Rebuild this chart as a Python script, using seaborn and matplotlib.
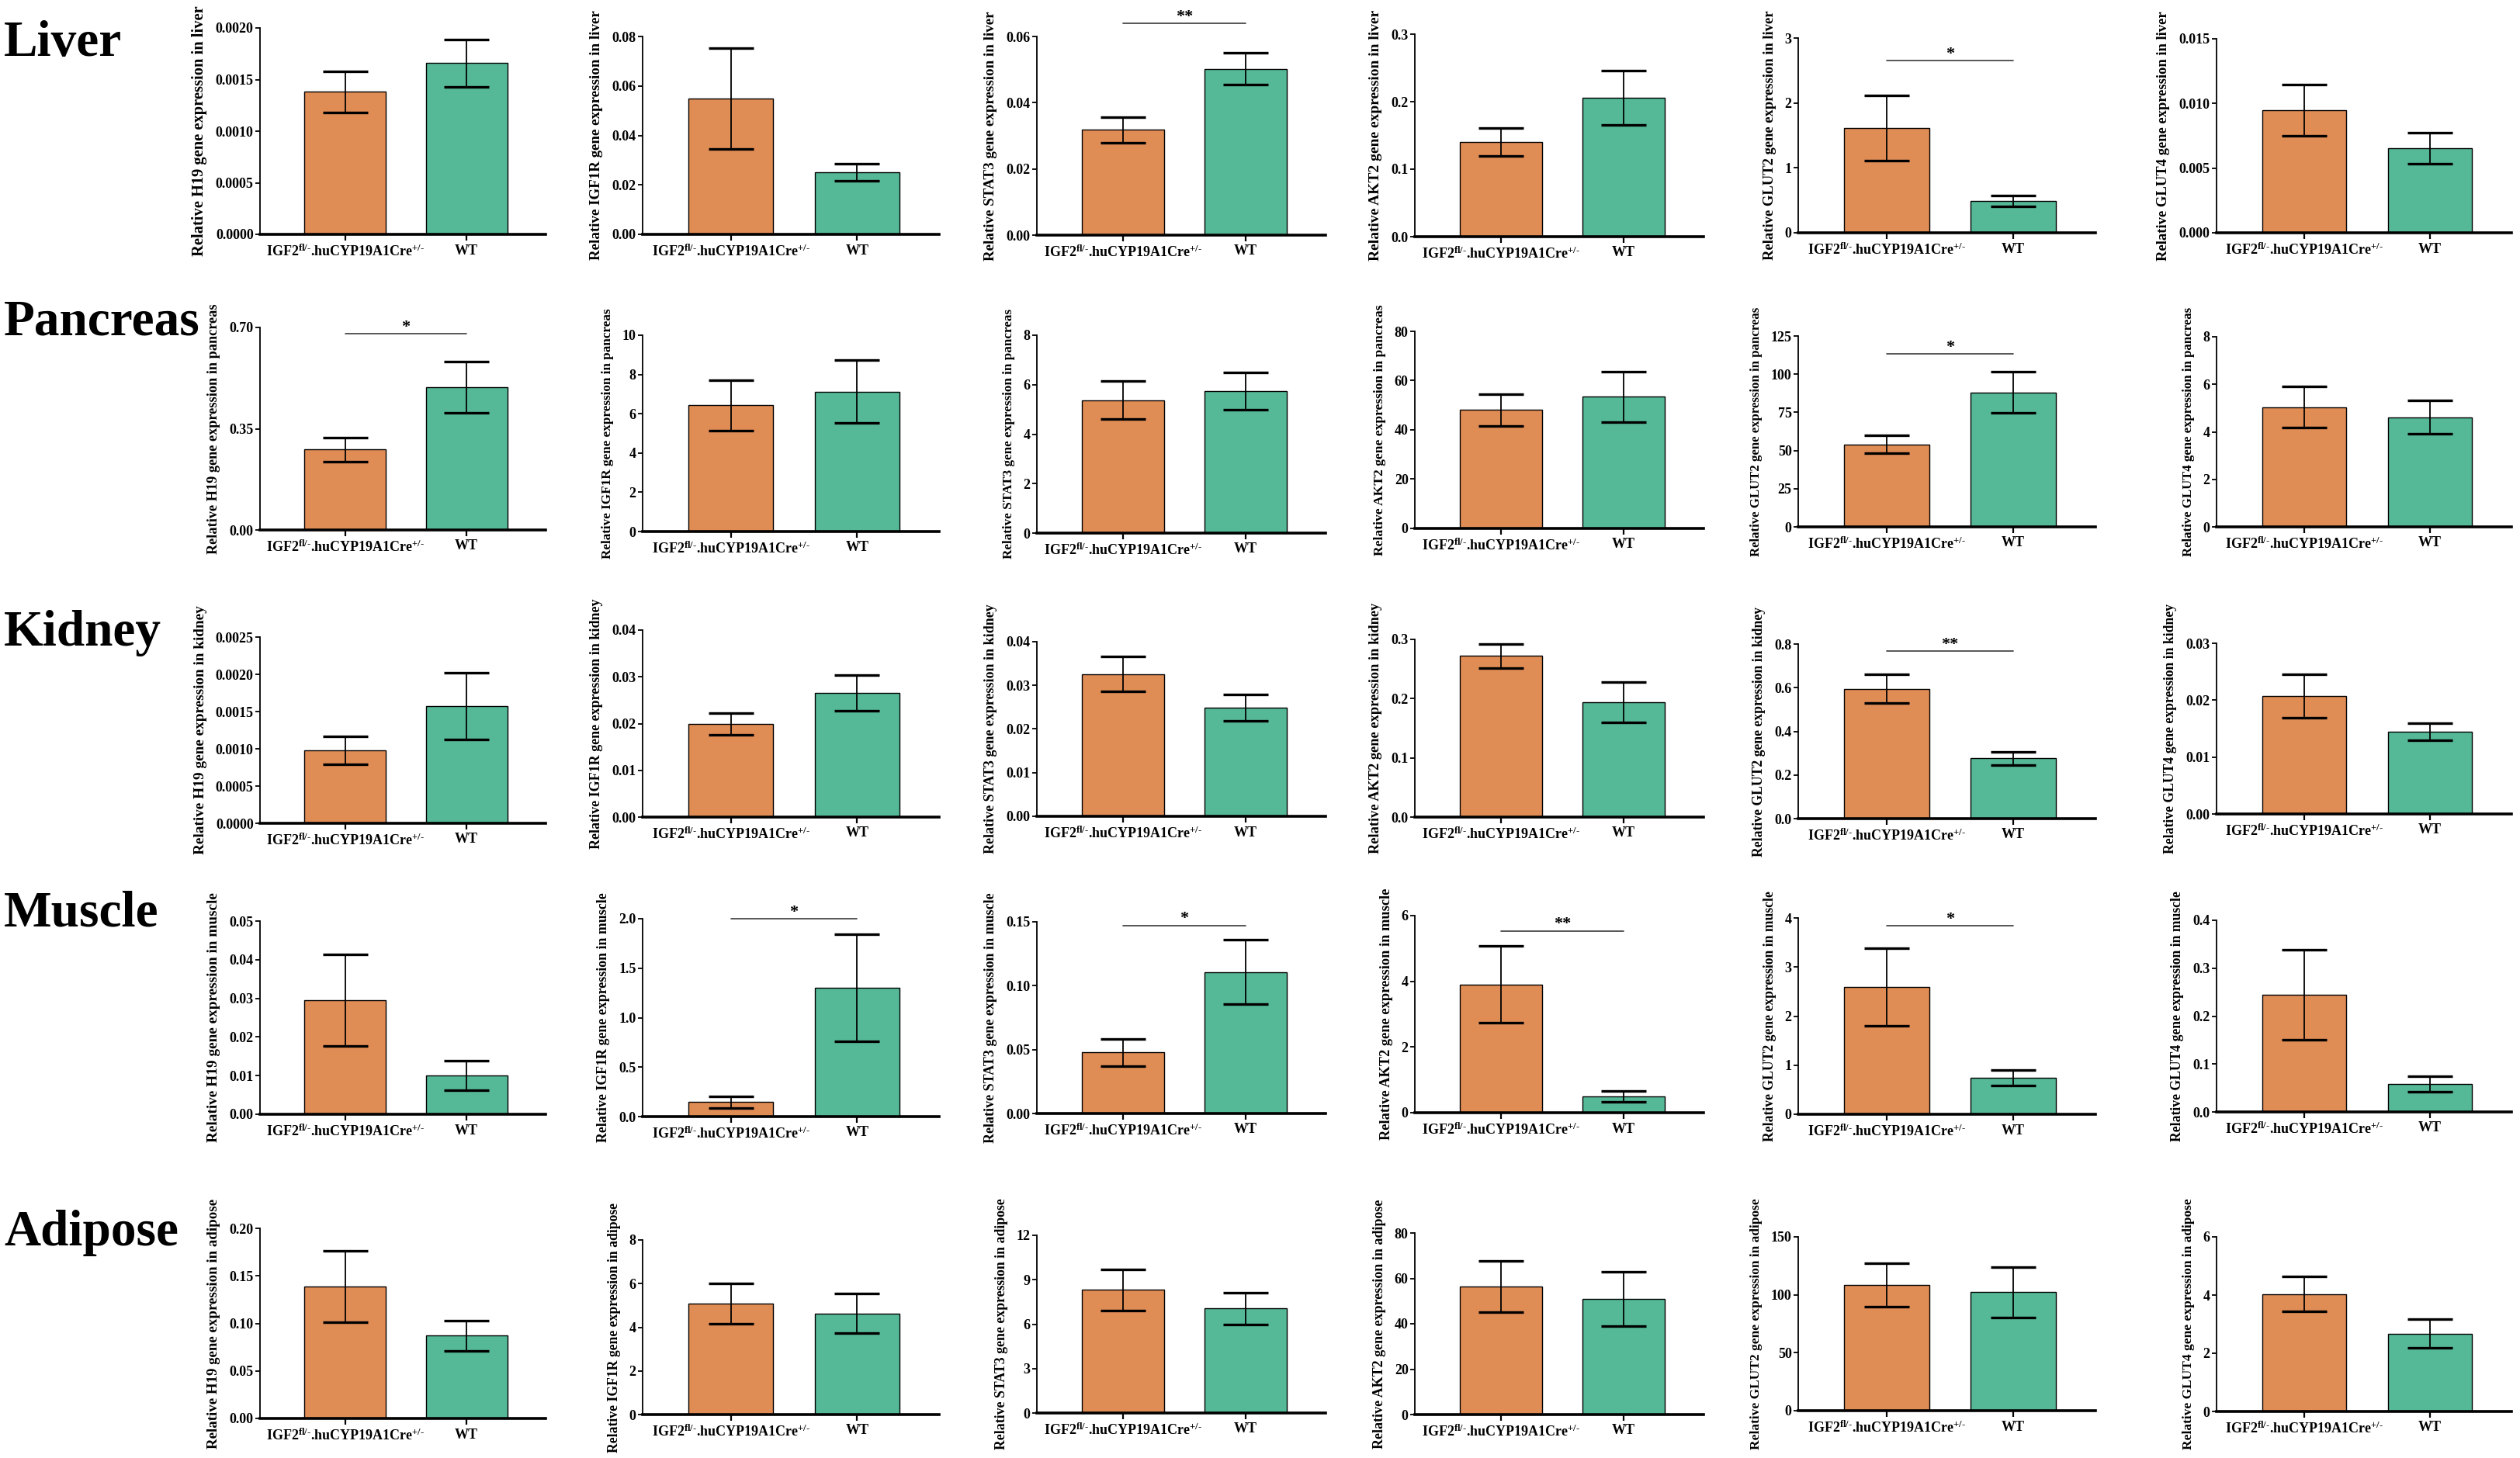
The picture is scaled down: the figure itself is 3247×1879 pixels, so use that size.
import numpy as np
import pandas as pd
import matplotlib
matplotlib.use('Agg')
import matplotlib.pyplot as plt
import seaborn as sns

# ---- data (mean and SEM per group) ----
tissues = ['Liver', 'Pancreas', 'Kidney', 'Muscle', 'Adipose']
genes = ['H19', 'IGF1R', 'STAT3', 'AKT2', 'GLUT2', 'GLUT4']
groups = ['KO', 'WT']
group_labels = [r'IGF2$^{\mathrm{fl/\text{-}}}$.huCYP19A1Cre$^{\mathrm{+/\text{-}}}$', 'WT']

ko_mean = [
    [0.00138, 0.0549, 0.0318, 0.1404, 1.615, 0.00947],
    [0.278, 6.43, 5.38, 48.1, 54.1, 5.04],
    [0.00098, 0.0199, 0.0326, 0.272, 0.595, 0.0207],
    [0.0295, 0.146, 0.0478, 3.90, 2.59, 0.244],
    [0.1388, 5.09, 8.31, 56.5, 108.5, 4.04],
]
ko_sem = [
    [0.0002, 0.0204, 0.0039, 0.0207, 0.50, 0.00197],
    [0.041, 1.28, 0.78, 6.4, 6.0, 0.87],
    [0.00019, 0.0023, 0.0040, 0.020, 0.065, 0.0038],
    [0.0118, 0.058, 0.0107, 1.17, 0.79, 0.094],
    [0.0375, 0.93, 1.40, 11.3, 18.7, 0.59],
]
wt_mean = [
    [0.00166, 0.0251, 0.0502, 0.206, 0.487, 0.00654],
    [0.493, 7.12, 5.75, 53.4, 88.0, 4.61],
    [0.00157, 0.0265, 0.0249, 0.194, 0.276, 0.0144],
    [0.0101, 1.30, 0.1107, 0.50, 0.747, 0.0584],
    [0.0871, 4.63, 7.06, 51.05, 102.3, 2.68],
]
wt_sem = [
    [0.00023, 0.0035, 0.0048, 0.040, 0.084, 0.00122],
    [0.088, 1.6, 0.75, 10.2, 13.4, 0.70],
    [0.00045, 0.0038, 0.0030, 0.034, 0.031, 0.0015],
    [0.0038, 0.54, 0.0253, 0.17, 0.158, 0.0157],
    [0.0158, 0.91, 1.06, 12.0, 21.8, 0.50],
]

# axis ranges as printed
y_max = [
    [0.0020, 0.08, 0.06, 0.3, 3, 0.015],
    [0.70, 10, 8, 80, 125, 8],
    [0.0025, 0.04, 0.04, 0.3, 0.8, 0.03],
    [0.05, 2.0, 0.15, 6, 4, 0.4],
    [0.20, 8, 12, 80, 150, 6],
]
y_step = [
    [0.0005, 0.02, 0.02, 0.1, 1, 0.005],
    [0.35, 2, 2, 20, 25, 2],
    [0.0005, 0.01, 0.01, 0.1, 0.2, 0.01],
    [0.01, 0.5, 0.05, 2, 1, 0.1],
    [0.05, 2, 3, 20, 50, 2],
]
y_dec = [
    [4, 2, 2, 1, 0, 3],
    [2, 0, 0, 0, 0, 0],
    [4, 2, 2, 1, 1, 2],
    [2, 1, 2, 0, 0, 1],
    [2, 0, 0, 0, 0, 0],
]

# significance: (row, col, stars, bracket height)
sig_marks = [
    (0, 2, '**', 0.0639),
    (0, 4, '*', 2.65),
    (1, 0, '*', 0.678),
    (1, 4, '*', 113.3),
    (2, 4, '**', 0.768),
    (3, 1, '*', 2.0),
    (3, 2, '*', 0.147),
    (3, 3, '**', 5.53),
    (3, 4, '*', 3.84),
]

colors = ['#E08C55', '#55B997']

# ---- layout (pixels of the 3248x1879 canvas) ----
W, H = 3248, 1879
col_left = [335, 828, 1336, 1823, 2317, 2856]
col_width = [368, 382, 372, 372, 383, 380]
ax_top = [
    [36, 47, 47, 44, 49, 50],
    [422, 432, 432, 427, 433, 434],
    [821, 812, 827, 824, 830, 829],
    [1187, 1184, 1188, 1180, 1183, 1186],
    [1583, 1598, 1592, 1589, 1594, 1594],
]
ax_bottom = [
    [302, 302, 303, 305, 300, 300],
    [683, 685, 687, 681, 679, 679],
    [1061, 1053, 1052, 1053, 1055, 1049],
    [1436, 1439, 1435, 1434, 1436, 1433],
    [1828, 1823, 1821, 1823, 1818, 1819],
]
label_base = [72, 432, 832, 1193, 1605]
ylabel_len = 322  # every y title in the source is squeezed to about this length

sns.set_style('ticks')
plt.rcParams['font.family'] = ['Liberation Serif', 'DejaVu Serif']
plt.rcParams['font.weight'] = 'bold'
plt.rcParams['mathtext.fontset'] = 'custom'
plt.rcParams['mathtext.rm'] = 'Liberation Serif:bold'
plt.rcParams['mathtext.it'] = 'Liberation Serif:bold'
plt.rcParams['mathtext.bf'] = 'Liberation Serif:bold'
for key in ['text.color', 'axes.labelcolor', 'axes.edgecolor',
            'xtick.color', 'ytick.color']:
    plt.rcParams[key] = 'black'

fig = plt.figure(figsize=(W / 100, H / 100), dpi=100)

for r, tissue in enumerate(tissues):
    fig.text(5 / W, 1 - label_base[r] / H, tissue, fontsize=47,
             fontweight='bold', ha='left', va='baseline', color='black')
    for c, gene in enumerate(genes):
        left = col_left[c] / W
        bottom = 1 - ax_bottom[r][c] / H
        height = (ax_bottom[r][c] - ax_top[r][c]) / H
        ax = fig.add_axes([left, bottom, col_width[c] / W, height])

        df = pd.DataFrame({'group': groups,
                           'value': [ko_mean[r][c], wt_mean[r][c]]})
        sns.barplot(data=df, x='group', y='value', hue='group', order=groups,
                    palette=colors, saturation=1, legend=False, width=0.67,
                    edgecolor='black', linewidth=1.0, errorbar=None, ax=ax)
        ax.errorbar([0, 1], df['value'], yerr=[ko_sem[r][c], wt_sem[r][c]],
                    fmt='none', ecolor='black', elinewidth=1.3,
                    capsize=21, capthick=2.4, zorder=5)

        ymax = y_max[r][c]
        n = int(round(ymax / y_step[r][c]))
        ticks = np.linspace(0, ymax, n + 1)
        ax.set_ylim(0, ymax)
        ax.set_yticks(ticks)
        ax.set_yticklabels([f'{t:.{y_dec[r][c]}f}' for t in ticks],
                           fontsize=13, fontweight='bold')
        ax.set_xlim(-0.7, 1.65)
        ax.set_xticks([0, 1])
        ax.set_xticklabels(group_labels, fontsize=13, fontweight='bold')
        ax.set_xlabel('')
        ax.set_ylabel(f'Relative {gene} gene expression in {tissue.lower()}',
                      fontsize=14.5, fontweight='bold', labelpad=8)

        sns.despine(ax=ax)
        ax.spines['left'].set_linewidth(1.3)
        ax.spines['bottom'].set_linewidth(2.6)
        ax.tick_params(axis='y', length=4.5, width=1.3, pad=1.5)
        ax.tick_params(axis='x', length=6, width=1.6, pad=3)

for r, c, stars, h in sig_marks:
    ax = fig.axes[r * len(genes) + c]
    ax.plot([0, 1], [h, h], color='#3a3a3a', lw=1.2, clip_on=False)
    ax.annotate(stars, (0.5, h), xytext=(0, 2.5), textcoords='offset points',
                ha='center', va='baseline', fontsize=16, fontweight='bold',
                annotation_clip=False)

# squeeze each y title to the common length seen in the source
renderer = fig.canvas.get_renderer()
for ax in fig.axes:
    lab = ax.yaxis.label
    ext = lab.get_window_extent(renderer)
    lab.set_fontsize(lab.get_fontsize() * ylabel_len / ext.height)

fig.savefig('out.png', dpi=100, facecolor='white')
